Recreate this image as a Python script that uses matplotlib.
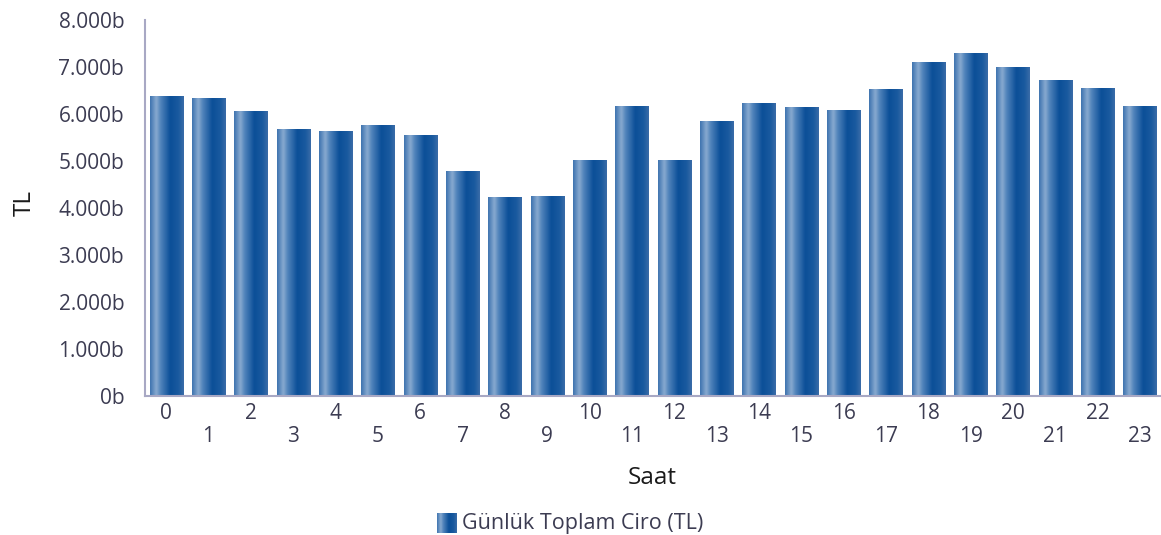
import numpy as np
import matplotlib.pyplot as plt
from matplotlib.colors import LinearSegmentedColormap

hours = list(range(24))
ciro = [6383, 6340, 6043, 5660, 5638, 5745, 5532, 4766, 4213, 4255, 5021, 6170,
        5021, 5830, 6213, 6128, 6085, 6511, 7106, 7277, 6979, 6723, 6553, 6170]
yticks = [0, 1000, 2000, 3000, 4000, 5000, 6000, 7000, 8000]

plt.rcParams['font.family'] = ['Open Sans', 'DejaVu Sans']
txt = '#3c3c52'

grad = LinearSegmentedColormap.from_list('bar', [
    (0.0, '#3f74b0'), (0.18, '#88aad0'), (0.32, '#4f82ba'),
    (0.6, '#0b4f98'), (0.85, '#1a5a9f'), (1.0, '#3a6ca8')])
gimg = np.linspace(0, 1, 64).reshape(1, -1)

fig = plt.figure(figsize=(11.61, 5.35), dpi=100)
ax = fig.add_axes([0.1249, 0.2598, 0.8751, 0.7028])

w = 0.78
for h, v in zip(hours, ciro):
    ax.imshow(gimg, cmap=grad, aspect='auto', extent=(h - w / 2, h + w / 2, 0, v),
              interpolation='bicubic', zorder=2)

ax.set_xlim(-0.5, 23.5)
ax.set_ylim(0, 8000)
ax.set_yticks(yticks)
ax.set_yticklabels([f'{t // 1000}.000b' if t else '0b' for t in yticks])
ax.set_xticks(hours)
ax.set_xticklabels([str(h) if h % 2 == 0 else '\n' + str(h) for h in hours],
                   linespacing=1.15)
ax.tick_params(length=0, labelsize=15, colors=txt, pad=5)
ax.tick_params(axis='y', pad=15)
for s in ['top', 'right']:
    ax.spines[s].set_visible(False)
for s in ['left', 'bottom']:
    ax.spines[s].set_color('#a8a8c4')
    ax.spines[s].set_linewidth(1.5)

fig.text(652 / 1161, 1 - 478 / 535, 'Saat', fontsize=17.5, color='#1a1a1a',
         va='center', ha='center')
fig.text(25 / 1161, 1 - 203 / 535, 'TL', rotation=90, fontsize=17.5, color='#1a1a1a',
         va='center', ha='center')

# legend
lax = fig.add_axes([437 / 1161, 1 - 533 / 535, 20 / 1161, 20 / 535])
lax.imshow(gimg, cmap=grad, aspect='auto', interpolation='bicubic')
lax.axis('off')
fig.text(462 / 1161, 1 - 523 / 535, 'Günlük Toplam Ciro (TL)', fontsize=15.5, color=txt,
         va='center', ha='left')

fig.savefig('out.png', dpi=100)
